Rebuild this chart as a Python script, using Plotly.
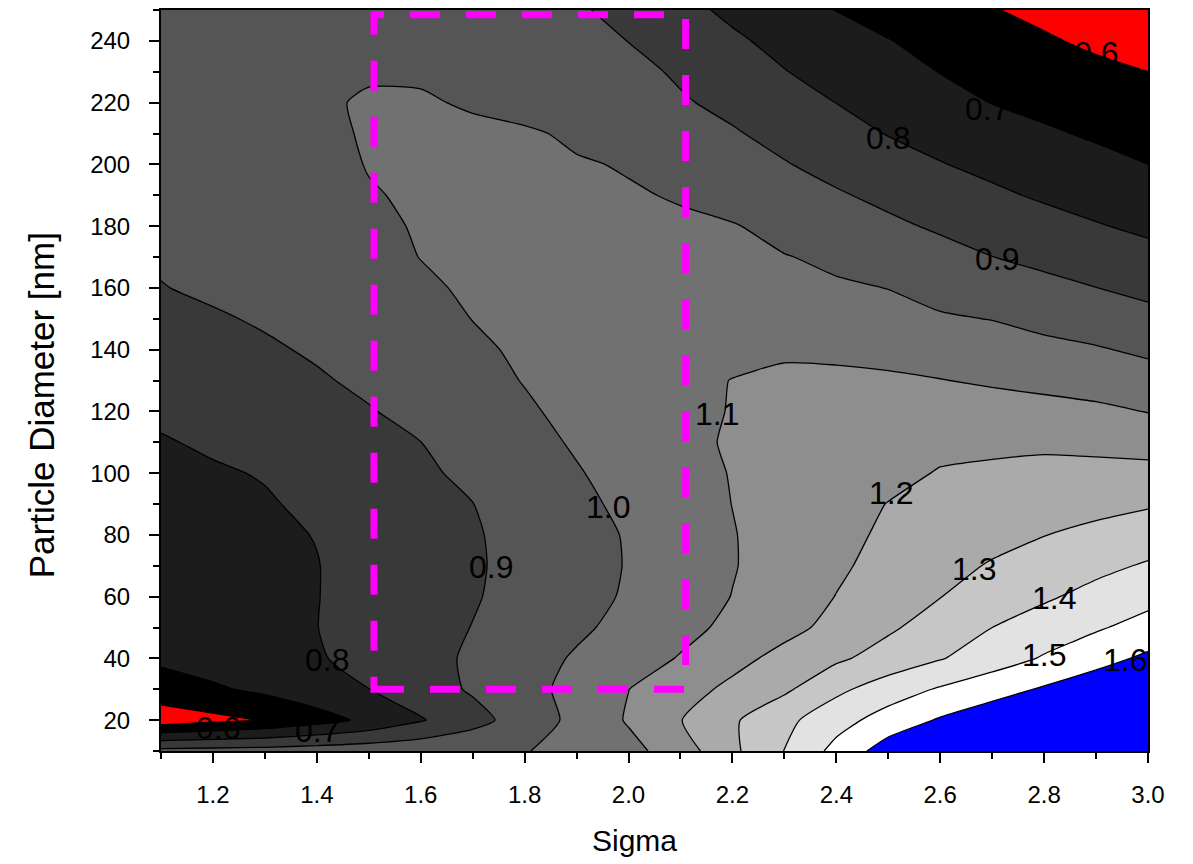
import plotly.graph_objects as go

# ---- data ----
sigma = [1.1, 1.2, 1.3, 1.4, 1.5, 1.6, 1.7, 1.8, 1.9, 2.0,
         2.1, 2.2, 2.3, 2.4, 2.5, 2.6, 2.7, 2.8, 2.9, 3.0]
diameter = [10, 20, 30, 40, 50, 60, 70, 80, 90, 100, 110, 120, 130,
            140, 150, 160, 170, 180, 190, 200, 210, 220, 230, 240, 250]

z_d010 = [0.93, 0.935, 0.94, 0.95, 0.96, 0.97, 0.98, 0.995, 1.037, 1.07, 1.15, 1.28, 1.402, 1.53, 1.649, 1.70, 1.75, 1.80, 1.85, 1.90]
z_d020 = [0.54, 0.575, 0.608, 0.662, 0.721, 0.792, 0.866, 0.945, 1.026, 1.109, 1.197, 1.287, 1.374, 1.463, 1.541, 1.61, 1.66, 1.70, 1.74, 1.78]
z_d030 = [0.662, 0.687, 0.719, 0.759, 0.799, 0.855, 0.911, 0.968, 1.03, 1.099, 1.161, 1.222, 1.283, 1.378, 1.45, 1.51, 1.561, 1.611, 1.66, 1.70]
z_d040 = [0.715, 0.741, 0.767, 0.792, 0.828, 0.87, 0.913, 0.962, 1.01, 1.057, 1.106, 1.17, 1.229, 1.284, 1.339, 1.394, 1.452, 1.509, 1.564, 1.619]
z_d050 = [0.726, 0.75, 0.774, 0.799, 0.832, 0.867, 0.902, 0.943, 0.984, 1.027, 1.073, 1.121, 1.172, 1.227, 1.286, 1.343, 1.40, 1.445, 1.489, 1.535]
z_d060 = [0.738, 0.758, 0.778, 0.798, 0.829, 0.861, 0.893, 0.93, 0.969, 1.01, 1.056, 1.102, 1.152, 1.202, 1.25, 1.298, 1.343, 1.387, 1.429, 1.47]
z_d070 = [0.749, 0.765, 0.782, 0.798, 0.828, 0.859, 0.89, 0.926, 0.965, 1.005, 1.05, 1.095, 1.14, 1.186, 1.229, 1.269, 1.308, 1.342, 1.376, 1.41]
z_d080 = [0.761, 0.774, 0.788, 0.802, 0.832, 0.862, 0.892, 0.928, 0.967, 1.007, 1.052, 1.096, 1.137, 1.178, 1.213, 1.241, 1.27, 1.298, 1.324, 1.351]
z_d090 = [0.772, 0.783, 0.794, 0.813, 0.842, 0.87, 0.899, 0.939, 0.979, 1.02, 1.06, 1.101, 1.135, 1.17, 1.202, 1.22, 1.237, 1.255, 1.272, 1.29]
z_d100 = [0.784, 0.793, 0.804, 0.831, 0.858, 0.886, 0.918, 0.956, 0.994, 1.031, 1.068, 1.104, 1.129, 1.153, 1.178, 1.205, 1.212, 1.218, 1.222, 1.226]
z_d110 = [0.795, 0.809, 0.832, 0.854, 0.877, 0.8995, 0.936, 0.973, 1.009, 1.042, 1.076, 1.11, 1.135, 1.155, 1.17, 1.18, 1.185, 1.188, 1.18, 1.165]
z_d120 = [0.812, 0.833, 0.854, 0.875, 0.895, 0.925, 0.957, 0.99, 1.02, 1.048, 1.076, 1.104, 1.125, 1.14, 1.148, 1.15, 1.145, 1.135, 1.12, 1.097]
z_d130 = [0.833, 0.852, 0.872, 0.891, 0.916, 0.945, 0.975, 1.003, 1.027, 1.051, 1.076, 1.102, 1.12, 1.118, 1.113, 1.103, 1.087, 1.071, 1.056, 1.04]
z_d140 = [0.854, 0.871, 0.889, 0.91, 0.936, 0.963, 0.989, 1.01, 1.03, 1.045, 1.058, 1.075, 1.085, 1.082, 1.072, 1.05, 1.037, 1.023, 1.008, 0.983]
z_d150 = [0.876, 0.891, 0.909, 0.932, 0.955, 0.978, 1.001, 1.02, 1.035, 1.045, 1.05, 1.05, 1.045, 1.035, 1.02, 1.008, 0.998, 0.975, 0.951, 0.928]
z_d160 = [0.897, 0.914, 0.933, 0.952, 0.971, 0.991, 1.008, 1.02, 1.027, 1.03, 1.028, 1.024, 1.017, 1.008, 0.999, 0.974, 0.949, 0.925, 0.901, 0.876]
z_d170 = [0.91, 0.928, 0.946, 0.964, 0.982, 1.001, 1.01, 1.016, 1.018, 1.016, 1.012, 1.008, 1.003, 0.987, 0.959, 0.93, 0.901, 0.877, 0.852, 0.828]
z_d180 = [0.92, 0.938, 0.955, 0.973, 0.99, 1.004, 1.01, 1.013, 1.013, 1.012, 1.01, 1.005, 0.976, 0.946, 0.917, 0.888, 0.861, 0.834, 0.806, 0.782]
z_d190 = [0.925, 0.943, 0.961, 0.979, 0.997, 1.006, 1.01, 1.012, 1.01, 1.006, 0.995, 0.966, 0.938, 0.909, 0.879, 0.847, 0.816, 0.788, 0.765, 0.741]
z_d200 = [0.93, 0.948, 0.966, 0.984, 1.002, 1.008, 1.01, 1.008, 1.006, 0.995, 0.963, 0.934, 0.905, 0.872, 0.838, 0.804, 0.777, 0.752, 0.726, 0.70]
z_d210 = [0.93, 0.949, 0.968, 0.985, 1.006, 1.015, 1.015, 1.01, 0.988, 0.962, 0.935, 0.908, 0.873, 0.834, 0.796, 0.768, 0.74, 0.712, 0.688, 0.667]
z_d220 = [0.93, 0.949, 0.967, 0.986, 1.01, 1.008, 0.992, 0.971, 0.951, 0.93, 0.909, 0.878, 0.838, 0.799, 0.765, 0.731, 0.698, 0.676, 0.655, 0.633]
z_d230 = [0.925, 0.945, 0.962, 0.977, 0.99, 0.99, 0.98, 0.965, 0.947, 0.925, 0.888, 0.845, 0.803, 0.767, 0.732, 0.698, 0.674, 0.649, 0.625, 0.60]
z_d240 = [0.92, 0.935, 0.95, 0.96, 0.965, 0.962, 0.955, 0.94, 0.92, 0.899, 0.857, 0.814, 0.775, 0.739, 0.703, 0.672, 0.642, 0.612, 0.58, 0.56]
z_d250 = [0.915, 0.928, 0.94, 0.948, 0.95, 0.947, 0.94, 0.928, 0.912, 0.87, 0.825, 0.782, 0.74, 0.698, 0.667, 0.636, 0.605, 0.575, 0.545, 0.52]

z_rows = [z_d010, z_d020, z_d030, z_d040, z_d050, z_d060, z_d070, z_d080,
          z_d090, z_d100, z_d110, z_d120, z_d130, z_d140, z_d150, z_d160,
          z_d170, z_d180, z_d190, z_d200, z_d210, z_d220, z_d230, z_d240,
          z_d250]

level_start, level_end, level_step = 0.6, 1.6, 0.1
# band colours: below 0.6, 0.6-0.7, ..., 1.5-1.6, above 1.6
band_colors = ["#ff0000", "#000000", "#1c1c1c", "#393939", "#555555",
               "#717171", "#8e8e8e", "#aaaaaa", "#c6c6c6", "#e2e2e2",
               "#ffffff", "#0000ff"]

# contour labels as placed in the reference (horizontal text)
label_text = ["0.6", "0.7", "0.8", "0.9", "1.1", "1.0", "0.9", "0.8",
              "1.2", "1.3", "1.4", "1.5", "1.6", "0.6", "0.7"]
label_sigma = [2.90, 2.69, 2.50, 2.71, 2.17, 1.96, 1.735, 1.42,
               2.505, 2.665, 2.82, 2.80, 2.955, 1.21, 1.40]
label_diam = [236, 218, 208.5, 169.5, 119, 89, 69.5, 39.5,
              93.5, 69, 59.5, 41, 39.5, 17.5, 16.5]

# highlighted region (dashed box)
box_sigma = [1.51, 2.11]
box_diam = [30, 248.5]

x_ticks = [1.2, 1.4, 1.6, 1.8, 2.0, 2.2, 2.4, 2.6, 2.8, 3.0]
y_ticks = [20, 40, 60, 80, 100, 120, 140, 160, 180, 200, 220, 240]

n = len(band_colors) - 1
colorscale = [[i / n, c] for i, c in enumerate(band_colors)]

FONT = "Liberation Sans, Arial, sans-serif"

fig = go.Figure()
fig.add_trace(go.Contour(
    x=sigma, y=diameter, z=z_rows,
    colorscale=colorscale,
    showscale=False,
    contours=dict(start=level_start, end=level_end, size=level_step,
                  coloring="fill", showlabels=False),
    line=dict(color="black", width=1.3, smoothing=0.6),
    hoverinfo="skip",
))

for t, sx, dy in zip(label_text, label_sigma, label_diam):
    fig.add_annotation(x=sx, y=dy, xref="x", yref="y", text=t,
                       showarrow=False,
                       font=dict(family=FONT, size=32, color="black"))

fig.add_shape(type="rect", xref="x", yref="y",
              x0=box_sigma[0], x1=box_sigma[1], y0=box_diam[0], y1=box_diam[1],
              line=dict(color="#ff00ff", width=7, dash="30px,26px"),
              fillcolor="rgba(0,0,0,0)", layer="above")

fig.update_layout(
    width=1193, height=864, autosize=False,
    margin=dict(l=161, r=45, t=8, b=113),
    paper_bgcolor="white", plot_bgcolor="white",
    font=dict(family=FONT, color="black", size=24),
    showlegend=False,
)

fig.update_xaxes(
    range=[1.1, 3.0], tickvals=x_ticks, ticktext=[f"{v:.1f}" for v in x_ticks],
    ticks="outside", ticklen=10, tickwidth=2, tickcolor="black",
    minor=dict(dtick=0.1, tick0=1.1, ticks="outside", ticklen=6,
               tickwidth=2, tickcolor="black"),
    showline=True, linewidth=2, linecolor="black", mirror=True,
    showgrid=False, zeroline=False,
    tickfont=dict(size=24), ticklabelstandoff=11,
)
fig.update_yaxes(
    range=[10, 250], tickvals=y_ticks, ticktext=[str(v) for v in y_ticks],
    ticks="outside", ticklen=10, tickwidth=2, tickcolor="black",
    minor=dict(dtick=10, tick0=10, ticks="outside", ticklen=6,
               tickwidth=2, tickcolor="black"),
    showline=True, linewidth=2, linecolor="black", mirror=True,
    showgrid=False, zeroline=False,
    tickfont=dict(size=24), ticklabelstandoff=14,
)

fig.add_annotation(text="Sigma", xref="paper", yref="paper",
                   x=0.48, y=-0.121, yanchor="middle", showarrow=False,
                   font=dict(size=30, family=FONT, color="black"))
fig.add_annotation(text="Particle Diameter [nm]", xref="paper", yref="paper",
                   x=-0.121, y=0.466, xanchor="center", yanchor="middle",
                   textangle=-90, showarrow=False,
                   font=dict(size=35, family=FONT, color="black"))

fig.write_html("out.html", config={"displayModeBar": False},
               post_script="document.body.style.margin='0';")
